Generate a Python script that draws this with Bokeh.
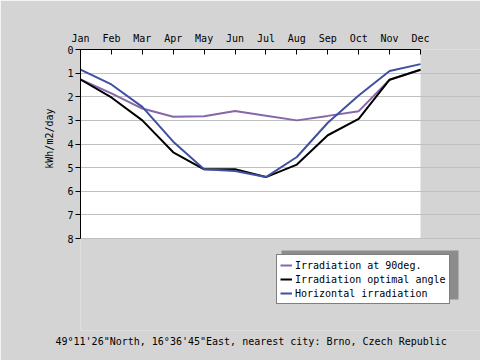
from bokeh.plotting import figure
from bokeh.models import (Range1d, FixedTicker, Legend, LegendItem, Title,
                          BoxAnnotation)
from bokeh.embed import file_html
from bokeh.resources import INLINE

months = ["Jan", "Feb", "Mar", "Apr", "May", "Jun",
          "Jul", "Aug", "Sep", "Oct", "Nov", "Dec"]
horizontal = [0.85, 1.48, 2.43, 3.9, 5.07, 5.14, 5.4, 4.55, 3.1, 1.95, 0.91, 0.62]
optimal = [1.27, 2.03, 3.0, 4.35, 5.07, 5.07, 5.4, 4.87, 3.63, 2.94, 1.28, 0.86]
deg90 = [1.27, 1.86, 2.5, 2.85, 2.83, 2.6, 2.8, 3.0, 2.81, 2.61, 1.28, 0.86]
y_ticks = [0, 1, 2, 3, 4, 5, 6, 7, 8]
title_text = "49\u00b011'26\"North, 16\u00b036'45\"East, nearest city: Brno, Czech Republic"
y_label = "kWh/m2/day"
names = ["Irradiation at 90deg.", "Irradiation optimal angle", "Horizontal irradiation"]
colors = ["#8866aa", "black", "#4050a0"]

FONT = "DejaVu Sans Mono"
BG = "#d4d4d4"
x = list(range(len(months)))
x_max = len(months) - 1
y_max = y_ticks[-1]

# the frame reaches right and down past the white plotting area so that the
# legend fits inside it; the white area covers only the months / y-tick extent
PLOT_W, PLOT_H = 340, 189
FR_W, FR_H = 400, 281
p = figure(width=480, height=360, output_backend="svg", toolbar_location=None,
           x_range=Range1d(0, x_max * FR_W / PLOT_W),
           y_range=Range1d(y_max * FR_H / PLOT_H, 0),
           x_axis_location="above",
           min_border_left=80, min_border_right=0,
           min_border_top=49, min_border_bottom=30)
p.border_fill_color = BG
p.background_fill_color = BG
p.outline_line_color = None

p.quad(left=[0], right=[x_max], top=[0], bottom=[y_max],
       fill_color="white", line_color=None, level="image")

xa = p.xaxis[0]
xa.ticker = FixedTicker(ticks=x)
xa.bounds = (0, x_max)
xa.major_label_overrides = {i: m for i, m in enumerate(months)}
xa.major_tick_in = 5
xa.major_tick_out = 0
xa.minor_tick_line_color = None
xa.axis_line_color = "black"
xa.major_tick_line_color = "black"
xa.major_label_text_font = FONT
xa.major_label_text_font_size = "10px"
xa.major_label_text_color = "black"
xa.major_label_standoff = 6

ya = p.yaxis[0]
ya.ticker = FixedTicker(ticks=y_ticks)
ya.bounds = (0, y_max)
ya.major_tick_in = 0
ya.major_tick_out = 5
ya.minor_tick_line_color = None
ya.axis_line_color = "black"
ya.major_tick_line_color = "black"
ya.major_label_text_font = FONT
ya.major_label_text_font_size = "10px"
ya.major_label_text_color = "black"
ya.major_label_standoff = 2

# y-axis caption as a vertical title, centred on the white area rather than the frame
ylab = Title(text=y_label, align="right", offset=59, standoff=20,
             text_font=FONT, text_font_size="10px", text_font_style="normal",
             text_color="black")
p.add_layout(ylab, "left")

p.xgrid.grid_line_color = None
p.ygrid.ticker = FixedTicker(ticks=y_ticks)
p.ygrid.bounds = (0, x_max)
p.ygrid.grid_line_color = "#c0c0c0"
p.ygrid.grid_line_width = 1
p.ygrid.level = "underlay"

renderers = []
for series, c in zip([deg90, optimal, horizontal], colors):
    renderers.append(p.line(x, series, line_color=c, line_width=2, level="glyph"))

shadow = BoxAnnotation(left=201, right=378, bottom=31, top=80,
                       left_units="screen", right_units="screen",
                       top_units="screen", bottom_units="screen",
                       fill_color="#8c8c8c", fill_alpha=1.0, line_color=None)
p.add_layout(shadow)

legend = Legend(items=[LegendItem(label=n, renderers=[r]) for n, r in zip(names, renderers)],
                location=(196, 26))
legend.label_text_font = FONT
legend.label_text_font_size = "10px"
legend.label_text_color = "black"
legend.label_height = 14
legend.glyph_height = 14
legend.glyph_width = 12
legend.label_standoff = 3
legend.spacing = 0
legend.padding = 3
legend.margin = 0
legend.border_line_color = "black"
legend.border_line_width = 1
legend.background_fill_color = "white"
legend.background_fill_alpha = 1.0
p.add_layout(legend)

title = Title(text=title_text, align="left", offset=-25, standoff=7,
              text_font=FONT, text_font_size="10px", text_font_style="normal",
              text_color="black")
p.add_layout(title, "below")

open("out.html", "w").write(file_html(p, INLINE))
